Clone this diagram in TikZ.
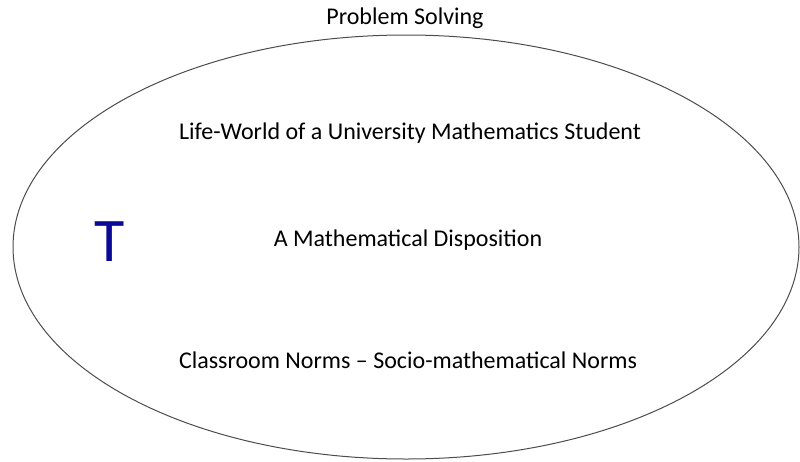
\documentclass[tikz,border=0pt]{standalone}
\usepackage{fontspec}
\setmainfont{Carlito}
\definecolor{letterblue}{RGB}{10,10,150}

\begin{document}
\begin{tikzpicture}[x=1pt, y=-1pt, line width=1pt]
    \useasboundingbox (0, 0) rectangle (800, 461);

    % draw outer ellipse
    \draw[black!70] (406, 247) ellipse [x radius=393, y radius=212];

    % draw labels
    \node[font=\fontsize{24}{28}\selectfont] (title) at (405, 18) {Problem Solving};
    \node[font=\fontsize{24}{28}\selectfont] (lifeworld) at (410, 133) {Life-World of a University Mathematics Student};
    \node[font=\fontsize{24}{28}\selectfont] (disposition) at (408, 240) {A Mathematical Disposition};
    \node[font=\fontsize{24}{28}\selectfont] (norms) at (408, 360) {Classroom Norms -- Socio-mathematical Norms};
    \node[font=\fontsize{62}{70}\selectfont, text=letterblue] (letter) at (110, 242) {T};
\end{tikzpicture}
\end{document}
